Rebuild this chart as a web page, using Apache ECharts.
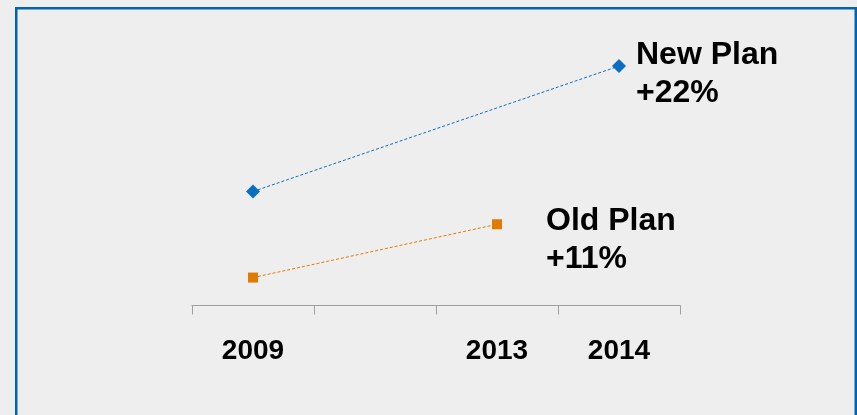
<!DOCTYPE html>
<html>
<head>
<meta charset="utf-8">
<script src="https://cdn.jsdelivr.net/npm/echarts@6/dist/echarts.min.js"></script>
<style>
  html, body { margin: 0; padding: 0; background: #eeeeee; }
  #chart { width: 857px; height: 415px; }
</style>
</head>
<body>
<div id="chart"></div>
<script>
// Plan comparison: index values per year (2009 = base)
const years = ['2009', '', '2013', '2014'];
const newPlan = [100, null, null, 122];
const oldPlan = [84.9, null, 94.25, null];
const newPlanLabel = 'New Plan\n+22%';
const oldPlanLabel = 'Old Plan\n+11%';

const FONT = '"Liberation Sans", Arial, Helvetica, sans-serif';
const BLUE = '#0a6fc2';
const ORANGE = '#e07b00';

function withEndLabel(values, text, offset) {
  const last = values.reduce((acc, v, i) => (v != null ? i : acc), -1);
  return values.map((v, i) => {
    if (i !== last) return v;
    return {
      value: v,
      label: {
        show: true,
        position: 'right',
        distance: 0,
        offset: offset,
        formatter: text,
        fontFamily: FONT,
        fontWeight: 'bold',
        fontSize: 32,
        lineHeight: 38,
        color: '#000'
      }
    };
  });
}

const chart = echarts.init(document.getElementById('chart'));
chart.setOption({
  backgroundColor: '#eeeeee',
  animation: false,
  grid: { left: 192, right: 177, top: 49, bottom: 109.5 },
  xAxis: {
    type: 'category',
    data: years,
    boundaryGap: true,
    axisLine: { lineStyle: { color: '#a0a0a0', width: 1 } },
    axisTick: { show: true, length: 9, alignWithLabel: false, lineStyle: { color: '#a0a0a0' } },
    axisLabel: {
      fontFamily: FONT,
      fontWeight: 'bold',
      fontSize: 28,
      color: '#000',
      margin: 32,
      interval: 0
    }
  },
  yAxis: {
    type: 'value',
    min: 80,
    max: 125,
    show: false,
    splitLine: { show: false }
  },
  series: [
    {
      name: 'New Plan',
      type: 'line',
      connectNulls: true,
      symbol: 'diamond',
      symbolSize: 14,
      itemStyle: { color: BLUE },
      lineStyle: { color: BLUE, width: 1, type: [3, 2] },
      data: withEndLabel(newPlan, newPlanLabel, [10, 8])
    },
    {
      name: 'Old Plan',
      type: 'line',
      connectNulls: true,
      symbol: 'rect',
      symbolSize: 10,
      itemStyle: { color: ORANGE },
      lineStyle: { color: ORANGE, width: 1, type: [3, 2] },
      data: withEndLabel(oldPlan, oldPlanLabel, [44, 16])
    }
  ],
  graphic: [
    {
      type: 'rect',
      silent: true,
      shape: { x: 16.25, y: 8.25, width: 839.5, height: 420 },
      style: { fill: 'none', stroke: '#0063b1', lineWidth: 2.5 }
    }
  ]
});
</script>
</body>
</html>
